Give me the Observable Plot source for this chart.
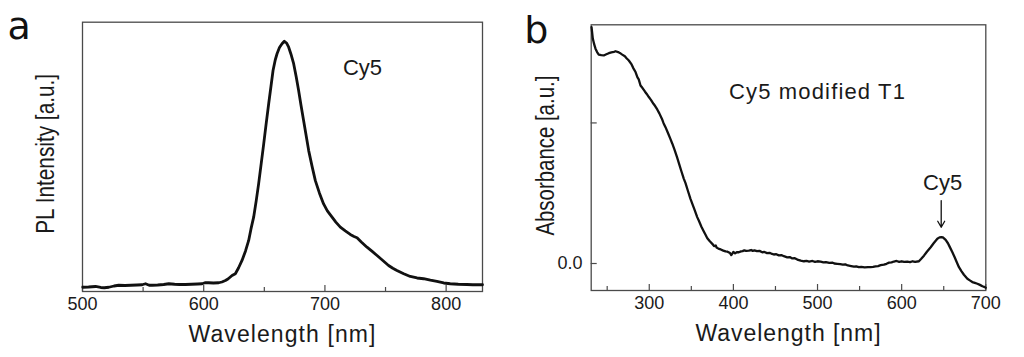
<!DOCTYPE html>
<html><head><meta charset="utf-8">
<script src="https://cdn.jsdelivr.net/npm/d3@7"></script>
<script src="https://cdn.jsdelivr.net/npm/@observablehq/plot@0.6"></script>
<style>
body{margin:0;background:#fff;}
#wrap{display:flex;width:1024px;height:357px;background:#fff;}
#wrap svg{display:block;}
</style></head><body><div id="wrap"></div>
<script>
// Panel a: PL spectrum of Cy5
const plWavelength = [500.2,505,510.7,515,518,521.7,526,529.9,535,540,545,549.2,552,555,557.5,562,567,571.2,576,580,584.9,590,595,598.7,601,604.1,608,612.4,615,617.9,620,623.4,626.1,628.8,631.6,634.5,637.1,639,641.2,643.3,645.3,647.4,649.5,651.5,653.6,655.5,657.2,659,660.5,662.5,664.6,666.5,668.3,670.1,672,674.2,676.3,678.3,680.3,682.4,684.5,686.6,689.4,692.1,695.5,698.9,702,705.9,709,712.7,716.8,720.9,724,726.5,730,734.7,739,743,748,752.5,756,759.4,765,770.4,776,781.4,787,792.4,798,803.4,810,817.1,822,828.1,830];
const plIntensity = [0.017,0.018,0.020,0.016,0.015,0.017,0.022,0.025,0.024,0.025,0.026,0.027,0.031,0.025,0.025,0.026,0.028,0.031,0.029,0.028,0.028,0.029,0.030,0.031,0.035,0.035,0.034,0.035,0.038,0.044,0.050,0.064,0.071,0.095,0.124,0.162,0.204,0.250,0.297,0.362,0.430,0.510,0.590,0.670,0.750,0.820,0.883,0.925,0.950,0.975,0.990,1.000,0.993,0.976,0.948,0.910,0.858,0.803,0.743,0.683,0.623,0.563,0.500,0.443,0.393,0.350,0.322,0.297,0.277,0.257,0.242,0.228,0.220,0.215,0.198,0.177,0.160,0.144,0.123,0.104,0.093,0.084,0.071,0.060,0.054,0.051,0.045,0.040,0.034,0.031,0.029,0.028,0.027,0.027,0.027];
const plXTicks = [500,600,700,800];
const plXMinorTicks = [550,650,750];
const plLabel = ["Cy5"];
const plLabelX = [731];
const plLabelY = [0.895];

// Panel b: absorbance of Cy5 modified T1
const absWavelength = [231.4,232.9,234.5,236.1,238,240,243,246,249,251.9,255,258,260,263,265,267.9,271,273,275.7,279,281,283.7,286,287.5,289.6,292,295,297,299.5,302,305,307,309.5,312,315,317,319.3,322,325,327.3,330,333,335.2,338,341,343.1,346,349,351.1,354,357,359,362,365,366.9,369,372,374.9,377,379,380,382.7,385,388,390.7,393,396,397.5,398.7,400,402,404,406.5,409,411,413,415,418.4,421,423,425,428,431,434.3,437,440,443,446,448.1,451,454,457,460,464,467,470,473,476,480,483.8,487,490,494,497,500,503.6,507,510,514,518,520,523.5,527,530,533,536,540,543.3,546,549,552,556,560,563.1,566,569,572,575,578.9,582,585,588,590.8,594,597,600,603,606.7,610,613,616,620.5,623,626.5,630,634.5,638,642.4,645,647.2,649,652.3,655,657,660.3,663,665,668.1,671,674,678.1,681,684,687,690,693,696,698,699.9];
const absValue = [0.841,0.800,0.780,0.764,0.752,0.743,0.741,0.740,0.744,0.748,0.751,0.753,0.755,0.752,0.749,0.743,0.737,0.730,0.722,0.708,0.695,0.681,0.662,0.655,0.633,0.624,0.611,0.603,0.592,0.582,0.568,0.560,0.548,0.534,0.515,0.499,0.485,0.466,0.444,0.427,0.405,0.378,0.357,0.330,0.302,0.286,0.258,0.230,0.213,0.190,0.165,0.152,0.131,0.113,0.102,0.090,0.079,0.070,0.062,0.064,0.057,0.052,0.050,0.046,0.043,0.042,0.037,0.030,0.035,0.041,0.036,0.040,0.040,0.043,0.044,0.047,0.045,0.046,0.048,0.045,0.047,0.044,0.045,0.040,0.041,0.037,0.038,0.034,0.032,0.033,0.029,0.030,0.026,0.022,0.023,0.018,0.019,0.014,0.010,0.008,0.009,0.007,0.009,0.006,0.008,0.007,0.004,0.005,0.002,0.003,0.000,-0.001,-0.002,-0.004,-0.003,-0.007,-0.009,-0.011,-0.010,-0.013,-0.012,-0.014,-0.013,-0.013,-0.012,-0.010,-0.009,-0.006,-0.004,-0.001,0.003,0.004,0.007,0.009,0.006,0.008,0.006,0.007,0.005,0.008,0.006,0.008,0.016,0.028,0.042,0.058,0.072,0.088,0.093,0.094,0.093,0.084,0.072,0.060,0.040,0.022,0.008,-0.013,-0.027,-0.040,-0.054,-0.060,-0.066,-0.069,-0.072,-0.076,-0.081,-0.083,-0.086];
const absXTicks = [300,400,500,600,700];
const absXMinorTicks = [250,350,450,550,650];
const absYTicks = [0, 0.5];
const absYTickLabels = ["0.0", ""];
const absLabels = ["Cy5 modified T1", "Cy5"];
const absLabelX = [500, 648.7];
const absLabelY = [0.610, 0.286];
const arrowX = [647];
const arrowY1 = [0.224];
const arrowY2 = [0.129];

const FONT = "Liberation Sans, Arial, sans-serif";
const INK = "#1a1a1a";
const FRAME = "#4a4a4a";

// Panel a
const dataA = plWavelength.map((w, i) => ({w, v: plIntensity[i]}));
const svgA = Plot.plot({
  width: 512, height: 357,
  marginLeft: 82, marginRight: 30, marginTop: 21.7, marginBottom: 66,
  style: {fontFamily: FONT, color: INK, background: "transparent"},
  x: {domain: [500, 830]},
  y: {domain: [0, 1.076]},
  marks: [
    Plot.axisX({ticks: plXTicks, tickSize: -6, tickPadding: 11.7, fontSize: 18, label: null, stroke: FRAME, strokeWidth: 1.2, fill: INK}),
    Plot.axisX({ticks: plXMinorTicks, tickSize: -4, tickFormat: () => "", label: null, stroke: FRAME, strokeWidth: 1.2}),
    Plot.axisY({ticks: [], label: null}),
    Plot.frame({stroke: FRAME, strokeWidth: 1.3}),
    Plot.line(dataA, {x: "w", y: "v", stroke: "#111", strokeWidth: 2.8, curve: "linear"}),
    Plot.text(plLabel, {x: (d, i) => plLabelX[i], y: (d, i) => plLabelY[i], text: d => d, fontSize: 22, fill: INK}),
    Plot.text(["Wavelength [nm]"], {frameAnchor: "bottom", dy: 50, text: d => d, fontSize: 23, fill: INK, ariaLabel: () => "xtitle"}),
    Plot.text(["PL Intensity [a.u.]"], {frameAnchor: "left", textAnchor: "middle", lineAnchor: "middle", dx: -37, dy: -3, rotate: -90, text: d => d, fontSize: 25, fill: INK, ariaLabel: () => "ytitle"}),
    Plot.text(["a"], {frameAnchor: "top-left", dx: -75, dy: 16.3, lineAnchor: "bottom", textAnchor: "start", text: d => d, fontSize: 38, fill: "#111", fontFamily: "DejaVu Sans"})
  ]
});

// Panel b
const dataB = absWavelength.map((w, i) => ({w, v: absValue[i]}));
const svgB = Plot.plot({
  width: 512, height: 357,
  marginLeft: 78.7, marginRight: 38.7, marginTop: 24.3, marginBottom: 67,
  style: {fontFamily: FONT, color: INK, background: "transparent"},
  x: {domain: [231, 700]},
  y: {domain: [-0.096, 0.849]},
  marks: [
    Plot.axisX({ticks: absXTicks, tickSize: -6, tickPadding: 11.7, fontSize: 18, label: null, stroke: FRAME, strokeWidth: 1.2, fill: INK}),
    Plot.axisX({ticks: absXMinorTicks, tickSize: -4, tickFormat: () => "", label: null, stroke: FRAME, strokeWidth: 1.2}),
    Plot.axisY({ticks: absYTicks, tickFormat: d => absYTickLabels[absYTicks.indexOf(d)], tickSize: -6, tickPadding: 14.7, fontSize: 18, label: null, stroke: FRAME, strokeWidth: 1.2, fill: INK}),
    Plot.frame({stroke: FRAME, strokeWidth: 1.3}),
    Plot.line(dataB, {x: "w", y: "v", stroke: "#111", strokeWidth: 2.3, curve: "linear"}),
    Plot.text(absLabels, {x: (d, i) => absLabelX[i], y: (d, i) => absLabelY[i], text: d => d, fontSize: 22, fill: INK, ariaLabel: d => d === "Cy5" ? "cy5" : "sample"}),
    Plot.arrow(arrowX, {x1: d => d, x2: d => d, y1: (d, i) => arrowY1[i], y2: (d, i) => arrowY2[i], stroke: "#111", strokeWidth: 1.3, headLength: 8, bend: 0}),
    Plot.text(["Wavelength [nm]"], {frameAnchor: "bottom", dy: 50, text: d => d, fontSize: 23, fill: INK, ariaLabel: () => "xtitle"}),
    Plot.text(["Absorbance [a.u.]"], {frameAnchor: "left", textAnchor: "middle", lineAnchor: "middle", dx: -45.4, dy: -2, rotate: -90, text: d => d, fontSize: 25, fill: INK, ariaLabel: () => "ytitle"}),
    Plot.text(["b"], {frameAnchor: "top-left", dx: -67, dy: 17.7, lineAnchor: "bottom", textAnchor: "start", text: d => d, fontSize: 38, fill: "#111", fontFamily: "DejaVu Sans"})
  ]
});

document.getElementById("wrap").append(svgA, svgB);

// Fit titles to the reference's text lengths (the reference lettering is condensed/stretched)
function fitText(svg, label, target) {
  d3.select(svg).selectAll(`text[aria-label="${label}"], g[aria-label="${label}"] text`).each(function() {
    const el = this;
    const len = el.getComputedTextLength();
    if (!len) return;
    const t = el.getAttribute("transform");
    if (t && t.includes("rotate")) {
      el.setAttribute("transform", t + ` scale(${(target / len).toFixed(4)},1)`);
    } else {
      const n = el.textContent.length;
      el.setAttribute("letter-spacing", ((target - len) / Math.max(1, n - 1)).toFixed(2) + "px");
    }
  });
}
fitText(svgA, "xtitle", 187);
fitText(svgB, "xtitle", 185);
fitText(svgA, "ytitle", 160);
fitText(svgB, "ytitle", 160);
fitText(svgB, "sample", 176);
</script>
</body></html>
